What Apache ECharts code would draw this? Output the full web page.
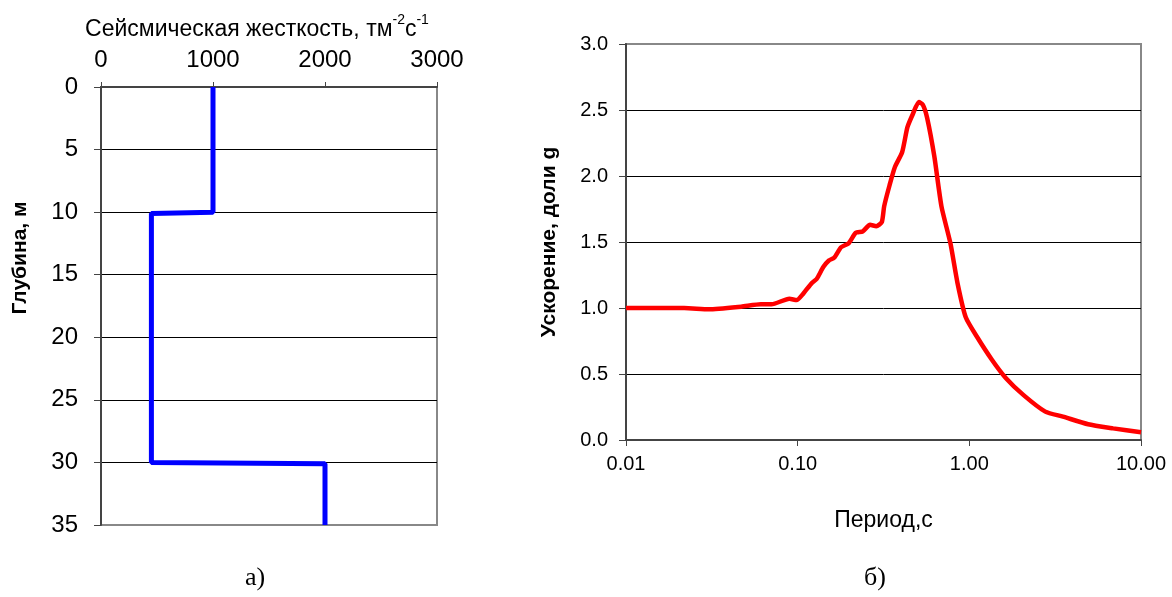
<!DOCTYPE html>
<html>
<head>
<meta charset="utf-8">
<script src="https://cdn.jsdelivr.net/npm/echarts@6/dist/echarts.min.js"></script>
<style>
  html, body { margin: 0; padding: 0; background: #fff; }
  #chart { width: 1172px; height: 597px; }
</style>
</head>
<body>
<div id="chart"></div>
<script>
// профиль жесткости (а)
const stiffness = [1000, 1000, 450, 450, 2000, 2000];
const depth = [0, 10, 10.1, 30, 30.1, 35];
const stiffTicks = [0, 1000, 2000, 3000];

// спектр ускорений (б)
const period = [0.01, 0.0218, 0.0304, 0.0469, 0.061, 0.0704, 0.0895, 0.0986, 0.108, 0.121,
  0.129, 0.141, 0.152, 0.163, 0.179, 0.198, 0.218, 0.239, 0.264, 0.287,
  0.309, 0.319, 0.343, 0.369, 0.406, 0.436, 0.469, 0.508, 0.536, 0.568,
  0.625, 0.688, 0.776, 0.853, 0.953, 1.11, 1.35, 1.63, 2.07, 2.77,
  3.51, 4.92, 6.88, 10];
const accel = [1.0, 1.0, 0.99, 1.01, 1.028, 1.028, 1.07, 1.06, 1.11, 1.19,
  1.22, 1.31, 1.36, 1.38, 1.46, 1.49, 1.57, 1.58, 1.63, 1.62,
  1.65, 1.77, 1.93, 2.07, 2.18, 2.37, 2.47, 2.56, 2.54, 2.44,
  2.15, 1.77, 1.49, 1.19, 0.93, 0.78, 0.61, 0.47, 0.34, 0.215,
  0.177, 0.119, 0.088, 0.058];

const font = '"Liberation Sans", Arial, sans-serif';
const serif = '"Liberation Serif", "Times New Roman", serif';

const myChart = echarts.init(document.getElementById('chart'));
const option = {
  animation: false,
  title: [
    { text: 'а)', left: 250, top: 560, textAlign: 'center',
      textStyle: { fontFamily: serif, fontSize: 26, fontWeight: 'normal', color: '#000' } },
    { text: 'б)', left: 870, top: 560, textAlign: 'center',
      textStyle: { fontFamily: serif, fontSize: 26, fontWeight: 'normal', color: '#000' } }
  ],
  grid: [
    { left: 101, top: 87, width: 336, height: 438, show: true, borderColor: '#888', borderWidth: 2, backgroundColor: '#fff' },
    { left: 626, top: 44, width: 515, height: 396, show: true, borderColor: '#888', borderWidth: 2, backgroundColor: '#fff' }
  ],
  xAxis: [
    {
      gridIndex: 0, type: 'value', position: 'top',
      min: stiffTicks[0], max: stiffTicks[stiffTicks.length - 1], interval: 1000,
      name: '{t|Сейсмическая жесткость, тм}{s|-2}{t|с}{s|-1}',
      nameLocation: 'middle', nameGap: 46,
      nameTextStyle: {
        padding: [0, 24, 0, 0],
        rich: {
          t: { fontFamily: font, fontSize: 23, color: '#000', lineHeight: 28, verticalAlign: 'bottom' },
          s: { fontFamily: font, fontSize: 14, color: '#000', lineHeight: 28, verticalAlign: 'top' }
        }
      },
      axisLine: { lineStyle: { color: '#444', width: 2 } },
      axisTick: { inside: false, length: 5, lineStyle: { color: '#444', width: 1 } },
      axisLabel: { fontFamily: font, fontSize: 24, color: '#000', margin: 15,
        formatter: v => String(v) },
      splitLine: { show: false }
    },
    {
      gridIndex: 1, type: 'log', logBase: 10, min: 0.01, max: 10,
      name: 'Период,с', nameLocation: 'middle', nameGap: 69,
      nameTextStyle: { fontFamily: font, fontSize: 23, color: '#000' },
      axisLine: { lineStyle: { color: '#444', width: 2 } },
      axisTick: { inside: false, length: 6, lineStyle: { color: '#444', width: 1 } },
      minorTick: { show: false },
      axisLabel: { fontFamily: font, fontSize: 20, color: '#000', margin: 14,
        formatter: v => Number(v).toFixed(2) },
      splitLine: { show: false }
    }
  ],
  yAxis: [
    {
      gridIndex: 0, type: 'value', inverse: true, min: 0, max: 35, interval: 5,
      name: 'Глубина, м', nameLocation: 'middle', nameGap: 70, nameRotate: 90,
      nameTextStyle: { fontFamily: font, fontSize: 21, fontWeight: 'bold', color: '#000',
        padding: [0, 0, 0, 96] },
      axisLine: { lineStyle: { color: '#444', width: 2 } },
      axisTick: { inside: false, length: 7, lineStyle: { color: '#444', width: 1 } },
      axisLabel: { fontFamily: font, fontSize: 24, color: '#000', margin: 23 },
      splitLine: { show: true, showMinLine: false, showMaxLine: false, lineStyle: { color: '#000', width: 1 } }
    },
    {
      gridIndex: 1, type: 'value', min: 0, max: 3, interval: 0.5,
      name: 'Ускорение, доли g', nameLocation: 'middle', nameGap: 66, nameRotate: 90,
      nameTextStyle: { fontFamily: font, fontSize: 21, fontWeight: 'bold', color: '#000' },
      axisLine: { lineStyle: { color: '#444', width: 2 } },
      axisTick: { inside: false, length: 7, lineStyle: { color: '#444', width: 1 } },
      axisLabel: { fontFamily: font, fontSize: 20, color: '#000', margin: 18,
        formatter: v => v.toFixed(1) },
      splitLine: { show: true, showMinLine: false, showMaxLine: false, lineStyle: { color: '#000', width: 1 } }
    }
  ],
  series: [
    {
      type: 'line', xAxisIndex: 0, yAxisIndex: 0,
      data: stiffness.map((v, i) => [v, depth[i]]),
      showSymbol: false, clip: false,
      lineStyle: { color: '#0000ff', width: 5 }
    },
    {
      type: 'line', xAxisIndex: 1, yAxisIndex: 1,
      data: period.map((t, i) => [t, accel[i]]),
      showSymbol: false, smooth: 0.2, clip: false,
      lineStyle: { color: '#ff0000', width: 4.5 }
    }
  ]
};
myChart.setOption(option);
</script>
</body>
</html>
